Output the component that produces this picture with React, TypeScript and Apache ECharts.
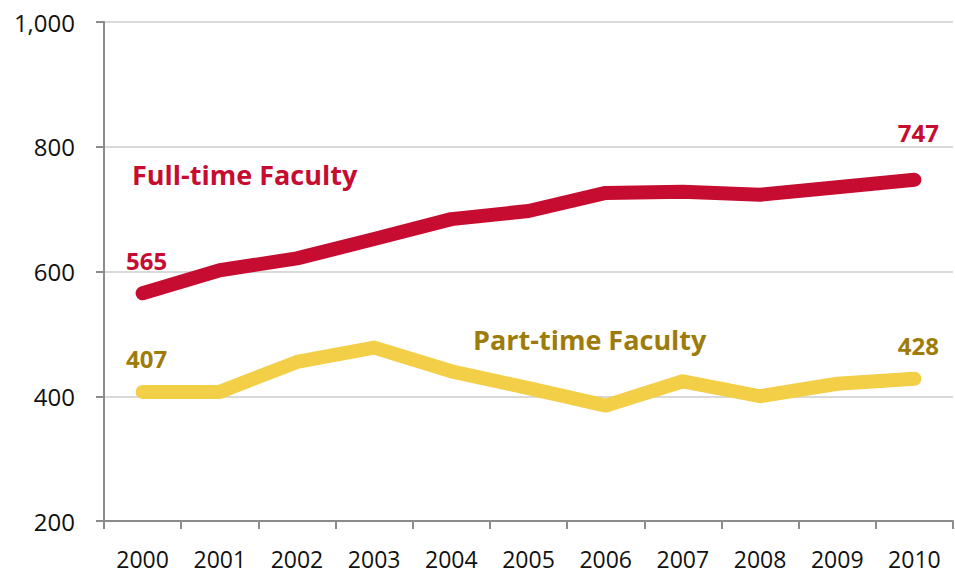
import React, { useEffect, useRef } from "react";
import * as echarts from "echarts";

const years = ["2000", "2001", "2002", "2003", "2004", "2005", "2006", "2007", "2008", "2009", "2010"];
const fullTime = [565, 602, 621, 652, 684, 697, 726, 728, 723, 735, 747];
const partTime = [407, 407, 455, 478, 440, 413, 385, 424, 400, 420, 428];
const yTicks = [200, 400, 600, 800, 1000];

const RED = "#C60C30";
const YELLOW = "#F2CF47";
const GOLD = "#9E7C0C";
const FONT = "'Open Sans', sans-serif";

function endLabels(values: number[], color: string, firstDist: number, lastDist: number) {
  return values.map((v, i) => {
    if (i === 0 || i === values.length - 1) {
      return {
        value: v,
        label: {
          show: true,
          position: "top",
          distance: i === 0 ? firstDist : lastDist,
          offset: [4, 0],
          color,
          fontFamily: FONT,
          fontWeight: "bold",
          fontSize: 24,
          formatter: "{c}",
        },
      };
    }
    return { value: v };
  });
}

export default function App() {
  const ref = useRef<HTMLDivElement>(null);
  useEffect(() => {
    if (!ref.current) return;
    const chart = echarts.init(ref.current, undefined, { renderer: "svg" });
    chart.setOption({
      animation: false,
      grid: { left: 104, right: 2, top: 22, bottom: 55, containLabel: false },
      xAxis: {
        type: "category",
        data: years,
        boundaryGap: true,
        axisLine: { lineStyle: { color: "#8c8c8c", width: 2 } },
        axisTick: { show: true, length: 8, lineStyle: { color: "#8c8c8c", width: 2 }, alignWithLabel: false },
        axisLabel: { color: "#111", fontFamily: FONT, fontSize: 23, lineHeight: 20, margin: 28 },
        splitLine: { show: false },
      },
      yAxis: {
        type: "value",
        min: yTicks[0],
        max: yTicks[yTicks.length - 1],
        interval: 200,
        axisLine: { show: true, lineStyle: { color: "#8c8c8c", width: 2 } },
        axisTick: { show: true, length: 8, lineStyle: { color: "#8c8c8c", width: 2 } },
        axisLabel: {
          color: "#111",
          fontFamily: FONT,
          fontSize: 24,
          margin: 29,
          formatter: (v: number) => v.toLocaleString("en-US"),
        },
        splitLine: { show: true, lineStyle: { color: "#d9d9d9", width: 2 } },
      },
      series: [
        {
          type: "line",
          name: "Full-time Faculty",
          data: endLabels(fullTime, RED, 20, 34),
          symbol: "circle",
          symbolSize: 2,
          itemStyle: { color: RED },
          lineStyle: { color: RED, width: 14, cap: "round", join: "round" },
          z: 3,
        },
        {
          type: "line",
          name: "Part-time Faculty",
          data: endLabels(partTime, GOLD, 20, 20),
          symbol: "circle",
          symbolSize: 2,
          itemStyle: { color: YELLOW },
          lineStyle: { color: YELLOW, width: 14, cap: "round", join: "round" },
          z: 2,
        },
      ],
      graphic: [
        {
          type: "text",
          left: 132,
          top: 161,
          style: { text: "Full-time Faculty", fill: RED, font: `bold 27px ${FONT}` },
        },
        {
          type: "text",
          left: 473,
          top: 326,
          style: { text: "Part-time Faculty", fill: GOLD, font: `bold 27px ${FONT}` },
        },
      ],
    });
    return () => chart.dispose();
  }, []);
  return <div ref={ref} style={{ width: 955, height: 576, position: "absolute", left: 0, top: 0 }} />;
}
